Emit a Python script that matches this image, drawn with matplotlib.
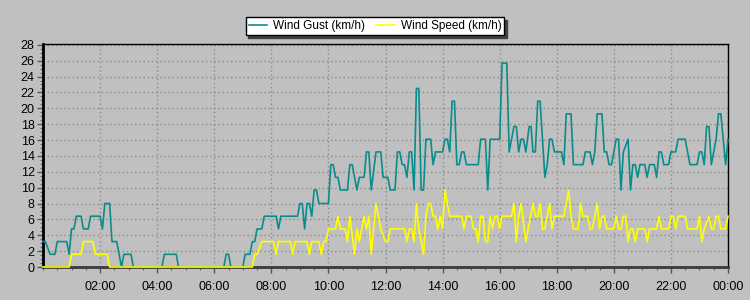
import matplotlib
matplotlib.use("Agg")
import matplotlib.pyplot as plt
from matplotlib.ticker import MultipleLocator, FixedLocator

plt.rcParams["font.family"] = ["Liberation Sans", "DejaVu Sans"]

# minutes since midnight, km/h
gust_t = [0, 5, 15, 25, 30, 50, 55, 60, 65, 70, 80, 85, 95, 100, 120, 125, 130, 140,
          145, 155, 160, 165, 170, 185, 190, 250, 255, 280, 285, 380, 385, 390, 395,
          420, 425, 435, 440, 445, 450, 460, 465, 490, 495, 500, 535, 540, 545, 550,
          555, 560, 565, 570, 575, 580, 600, 605, 610, 615, 620, 625, 640, 645, 650,
          660, 665, 675, 680, 685, 690, 700, 710, 715, 725, 730, 740, 745, 750, 755,
          760, 765, 770, 775, 780, 785, 790, 795, 800, 805, 815, 820, 825, 840, 845,
          850, 855, 860, 865, 870, 875, 880, 885, 890, 915, 920, 930, 935, 940, 960,
          965, 975, 980, 990, 995, 1000, 1005, 1010, 1015, 1022, 1026, 1030, 1035,
          1040, 1045, 1055, 1060, 1065, 1070, 1075, 1090, 1095, 1100, 1110, 1115,
          1135, 1140, 1150, 1155, 1160, 1165, 1175, 1180, 1185, 1190, 1195, 1205,
          1210, 1215, 1220, 1230, 1235, 1240, 1245, 1250, 1255, 1265, 1270, 1275,
          1285, 1290, 1295, 1300, 1305, 1315, 1320, 1330, 1335, 1350, 1360, 1375,
          1380, 1385, 1390, 1395, 1400, 1405, 1410, 1415, 1420, 1425, 1435, 1440]
gust_v = [3.2, 3.2, 1.6, 1.6, 3.2, 3.2, 1.6, 4.8, 4.8, 6.4, 6.4, 4.8, 4.8, 6.4, 6.4, 4.8, 8.0, 8.0,
          3.2, 3.2, 1.6, 0, 1.6, 1.6, 0, 0, 1.6, 1.6, 0, 0, 1.6, 1.6, 0,
          0, 1.6, 1.6, 3.2, 3.2, 4.8, 4.8, 6.4, 6.4, 4.8, 6.4, 6.4, 8.0, 8.0, 4.8,
          8.0, 8.0, 6.4, 9.7, 9.7, 8.0, 8.0, 12.9, 12.9, 11.3, 11.3, 9.7, 9.7, 12.9, 12.9,
          9.7, 11.3, 11.3, 14.5, 14.5, 9.7, 14.5, 14.5, 11.3, 11.3, 9.7, 9.7, 14.5, 14.5, 12.9,
          12.9, 11.3, 14.5, 14.5, 9.7, 22.5, 22.5, 9.7, 9.7, 16.1, 16.1, 12.9, 14.5, 14.5, 16.1,
          16.1, 14.5, 20.9, 20.9, 12.9, 12.9, 14.5, 14.5, 12.9, 12.9, 16.1, 16.1, 9.7, 16.1, 16.1,
          25.7, 25.7, 14.5, 17.7, 17.7, 14.5, 16.1, 16.1, 14.5, 17.7, 17.7, 14.5, 14.5,
          20.9, 20.9, 11.3, 12.9, 16.1, 16.1, 14.5, 14.5, 12.9, 19.3, 19.3, 12.9,
          12.9, 14.5, 14.5, 12.9, 14.5, 19.3, 19.3, 14.5, 14.5, 12.9, 12.9, 16.1,
          16.1, 9.7, 14.5, 16.1, 9.7, 12.9, 12.9, 11.3, 12.9, 12.9, 11.3, 12.9,
          12.9, 11.3, 14.5, 14.5, 12.9, 12.9, 14.5, 14.5, 16.1, 16.1, 12.9, 12.9,
          14.5, 14.5, 12.9, 17.7, 17.7, 12.9, 14.5, 16.1, 19.3, 19.3, 12.9, 16.1]

speed_t = [0, 55, 60, 80, 85, 105, 110, 135, 140, 440, 445, 450, 460, 485, 490, 495,
           520, 525, 530, 555, 560, 565, 580, 585, 590, 595, 600, 615, 620, 625, 635,
           640, 645, 655, 660, 665, 670, 675, 680, 685, 690, 700, 705, 710, 720, 725,
           730, 760, 765, 770, 775, 780, 785, 790, 800, 805, 810, 815, 820, 825, 830,
           835, 840, 845, 850, 855, 880, 885, 890, 900, 905, 910, 915, 920, 925, 930,
           935, 940, 945, 950, 955, 960, 965, 985, 990, 995, 1000, 1005, 1015, 1020,
           1025, 1030, 1035, 1040, 1045, 1050, 1055, 1060, 1065, 1070, 1075, 1095,
           1105, 1110, 1115, 1125, 1130, 1135, 1145, 1150, 1155, 1160, 1165, 1170,
           1175, 1180, 1185, 1200, 1205, 1210, 1215, 1220, 1225, 1230, 1235, 1240,
           1245, 1250, 1265, 1270, 1275, 1290, 1295, 1300, 1315, 1320, 1325, 1330,
           1335, 1350, 1355, 1375, 1380, 1385, 1390, 1400, 1405, 1410, 1415, 1420,
           1425, 1435, 1440]
speed_v = [0, 0, 1.6, 1.6, 3.2, 3.2, 1.6, 1.6, 0, 0, 1.6, 1.6, 3.2, 3.2, 1.6, 3.2,
           3.2, 1.6, 3.2, 3.2, 1.6, 3.2, 3.2, 1.6, 3.2, 3.2, 4.8, 4.8, 6.4, 4.8, 4.8,
           3.2, 6.4, 1.6, 4.8, 3.2, 4.8, 6.4, 4.8, 6.4, 1.6, 8.0, 6.4, 4.8, 3.2, 3.2,
           4.8, 4.8, 3.2, 4.8, 4.8, 3.2, 8.0, 4.8, 1.6, 6.4, 8.0, 8.0, 6.4, 6.4, 4.8,
           6.4, 4.8, 9.7, 8.0, 6.4, 6.4, 4.8, 6.4, 6.4, 4.8, 4.8, 3.2, 6.4, 6.4, 3.2,
           3.2, 6.4, 4.8, 6.4, 6.4, 4.8, 6.4, 6.4, 8.0, 3.2, 6.4, 8.0, 3.2, 4.8,
           6.4, 8.0, 6.4, 6.4, 8.0, 4.8, 4.8, 6.4, 8.0, 4.8, 6.4, 6.4,
           9.7, 6.4, 4.8, 4.8, 8.0, 6.4, 6.4, 4.8, 4.8, 6.4, 8.0, 4.8,
           6.4, 6.4, 4.8, 4.8, 6.4, 4.8, 4.8, 6.4, 6.4, 3.2, 4.8, 4.8,
           3.2, 4.8, 4.8, 3.2, 4.8, 4.8, 6.4, 4.8, 4.8, 6.4, 6.4, 4.8,
           6.4, 6.4, 4.8, 4.8, 6.4, 3.2, 4.8, 6.4, 4.8, 4.8, 6.4, 6.4,
           4.8, 4.8, 6.4]

tick_minutes = [120, 240, 360, 480, 600, 720, 840, 960, 1080, 1200, 1320, 1440]
tick_labels = ["02:00", "04:00", "06:00", "08:00", "10:00", "12:00",
               "14:00", "16:00", "18:00", "20:00", "22:00", "00:00"]

BG = "#c0c0c0"

fig = plt.figure(figsize=(7.5, 3.0), dpi=100, facecolor=BG)
ax = fig.add_axes([43 / 750, 33 / 300, 685 / 750, 223 / 300])
ax.set_facecolor(BG)

ax.plot(gust_t, gust_v, color="#0a8c8c", lw=1.2, label="Wind Gust (km/h)",
        clip_on=False, zorder=3)
ax.plot(speed_t, speed_v, color="#ffff00", lw=1.2, label="Wind Speed (km/h)",
        clip_on=False, zorder=4)

ax.set_xlim(0, 1440)
ax.set_ylim(0, 28.1)

ax.xaxis.set_major_locator(FixedLocator(tick_minutes))
ax.set_xticklabels(tick_labels)
ax.xaxis.set_minor_locator(MultipleLocator(30))
ax.yaxis.set_major_locator(MultipleLocator(2))
ax.yaxis.set_minor_locator(MultipleLocator(0.5))

ax.tick_params(axis="both", which="major", labelsize=9, length=4, width=1,
               color="#555555", labelcolor="black")
ax.tick_params(axis="both", which="minor", length=2.5, width=0.8, color="#666666")
ax.tick_params(axis="x", which="major", pad=6)
ax.tick_params(axis="y", which="major", pad=2)

ax.grid(True, which="major", color="#8a8a8a", linestyle=(0, (1, 2)), lw=1)

ax.spines["left"].set_color("black")
ax.spines["left"].set_linewidth(2)
ax.spines["bottom"].set_color("#3a3a3a")
ax.spines["bottom"].set_linewidth(2)
ax.spines["top"].set_color("black")
ax.spines["top"].set_linewidth(1)
ax.spines["right"].set_color("black")
ax.spines["right"].set_linewidth(1)

leg = fig.legend(loc="upper center", bbox_to_anchor=(0.5, 0.962), ncol=2,
                 fontsize=8.5, frameon=True, fancybox=False, framealpha=1,
                 edgecolor="black", facecolor="white", handlelength=1.6,
                 handletextpad=0.5, columnspacing=0.9, borderpad=0.25,
                 shadow={"color": "#404040", "alpha": 1})
leg.get_frame().set_linewidth(1)

fig.savefig("out.png", dpi=100, facecolor=BG, edgecolor="#e4e4e4")
